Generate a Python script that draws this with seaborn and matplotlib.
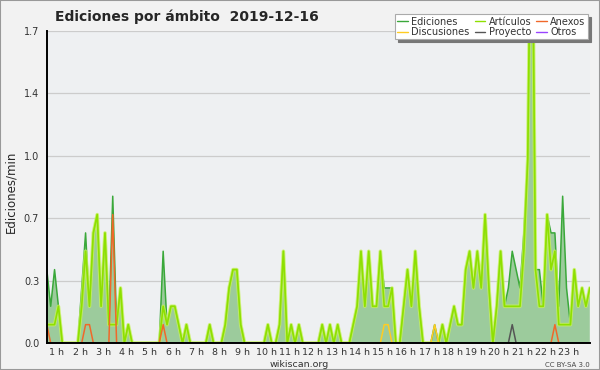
import numpy as np
import pandas as pd
import matplotlib
matplotlib.use('Agg')
import matplotlib.pyplot as plt
from matplotlib.ticker import AutoMinorLocator, FormatStrFormatter, MultipleLocator, FixedLocator
from matplotlib.patches import Rectangle
import seaborn as sns

# 10-minute bins, first bin starts at ~00:34
START_HOUR = 0.57
BIN_HOURS = 1 / 6

# Edits per minute (all namespaces)
ediciones = [
    0.4, 0.2, 0.4, 0.2, 0, 0, 0, 0, 0, 0.3,
    0.6, 0.2, 0.6, 0.7, 0.2, 0.6, 0.1, 0.8, 0.1, 0.3,
    0, 0.1, 0, 0, 0, 0, 0, 0, 0, 0,
    0.5, 0.1, 0.2, 0.2, 0.1, 0, 0.1, 0, 0, 0,
    0, 0, 0.1, 0, 0, 0, 0.1, 0.3, 0.4, 0.4,
    0.1, 0, 0, 0, 0, 0, 0, 0.1, 0, 0,
    0.1, 0.5, 0, 0.1, 0, 0.1, 0, 0, 0, 0,
    0, 0.1, 0, 0.1, 0, 0.1, 0, 0, 0, 0.1,
    0.2, 0.5, 0.2, 0.5, 0.2, 0.2, 0.5, 0.3, 0.3, 0.3,
    0, 0, 0.2, 0.4, 0.2, 0.5, 0.2, 0, 0, 0,
    0.1, 0, 0.1, 0, 0.1, 0.2, 0.1, 0.1, 0.4, 0.5,
    0.3, 0.5, 0.3, 0.7, 0.3, 0, 0.2, 0.5, 0.2, 0.3,
    0.5, 0.4, 0.3, 0.6, 1.0, 2.8, 0.4, 0.4, 0.2, 0.7,
    0.6, 0.6, 0.2, 0.8, 0.3, 0.1, 0.4, 0.2, 0.3, 0.2, 0.3,
]

articulos = [
    0.1, 0.1, 0.1, 0.2, 0, 0, 0, 0, 0, 0.2,
    0.5, 0.2, 0.6, 0.7, 0.2, 0.6, 0.1, 0.1, 0.1, 0.3,
    0, 0.1, 0, 0, 0, 0, 0, 0, 0, 0,
    0.2, 0.1, 0.2, 0.2, 0.1, 0, 0.1, 0, 0, 0,
    0, 0, 0.1, 0, 0, 0, 0.1, 0.3, 0.4, 0.4,
    0.1, 0, 0, 0, 0, 0, 0, 0.1, 0, 0,
    0.1, 0.5, 0, 0.1, 0, 0.1, 0, 0, 0, 0,
    0, 0.1, 0, 0.1, 0, 0.1, 0, 0, 0, 0.1,
    0.2, 0.5, 0.2, 0.5, 0.2, 0.2, 0.5, 0.2, 0.2, 0.3,
    0, 0, 0.2, 0.4, 0.2, 0.5, 0.2, 0, 0, 0,
    0, 0, 0.1, 0, 0.1, 0.2, 0.1, 0.1, 0.4, 0.5,
    0.3, 0.5, 0.3, 0.7, 0.3, 0, 0.2, 0.5, 0.2, 0.2,
    0.2, 0.2, 0.2, 0.5, 1.0, 2.8, 0.4, 0.2, 0.2, 0.7,
    0.4, 0.5, 0.1, 0.1, 0.1, 0.1, 0.4, 0.2, 0.3, 0.2, 0.3,
]

# sparse series: {bin index: edits/min}
anexos_bins = {0: 0.1, 10: 0.1, 11: 0.1, 17: 0.7, 30: 0.1, 131: 0.1}
discusiones_bins = {87: 0.1, 88: 0.1, 100: 0.1}
proyecto_bins = {120: 0.1}
otros_bins = {}

hour_ticks = list(range(1, 24))
hour_labels = [f"{h} h" for h in hour_ticks]
y_ticks = [0.0, 0.34, 0.68, 1.02, 1.36, 1.7]

COLORS = {
    'Ediciones': '#3aa83a',
    'Artículos': '#8ee000',
    'Anexos': '#f0682a',
    'Discusiones': '#ffcc22',
    'Proyecto': '#555555',
    'Otros': '#9944ff',
}


def expand(bins, n):
    arr = np.zeros(n)
    for k, v in bins.items():
        arr[k] = v
    return arr


n = len(ediciones)
df = pd.DataFrame({
    'hora': START_HOUR + np.arange(n) * BIN_HOURS,
    'Ediciones': ediciones,
    'Artículos': articulos,
    'Anexos': expand(anexos_bins, n),
    'Discusiones': expand(discusiones_bins, n),
    'Proyecto': expand(proyecto_bins, n),
    'Otros': expand(otros_bins, n),
})

sns.set_style('white')
plt.rcParams['font.family'] = ['DejaVu Sans']

fig, ax = plt.subplots(figsize=(6, 3.7), dpi=100)
fig.patch.set_facecolor('#f2f2f2')
ax.set_facecolor('#eef0f2')
fig.subplots_adjust(left=0.078, right=0.983, bottom=0.073, top=0.916)

# total area
ax.fill_between(df['hora'], df['Ediciones'], color='#9ccb9c', lw=0, zorder=1)
sns.lineplot(data=df, x='hora', y='Ediciones', color=COLORS['Ediciones'], lw=1.1,
             ax=ax, label='Ediciones', zorder=3)

# articles line with a soft glow
ax.plot(df['hora'], df['Artículos'], color='#c6f25a', lw=2.6, alpha=0.8, zorder=4)
sns.lineplot(data=df, x='hora', y='Artículos', color=COLORS['Artículos'], lw=1.2,
             ax=ax, label='Artículos', zorder=5)

for name in ['Anexos', 'Discusiones', 'Proyecto', 'Otros']:
    sns.lineplot(data=df, x='hora', y=name, color=COLORS[name], lw=1.1,
                 ax=ax, label=name, zorder=6)

if ax.get_legend() is not None:
    ax.get_legend().remove()

ax.set_xlim(df['hora'].iloc[0], df['hora'].iloc[-1])
ax.set_ylim(0, 1.7)

ax.xaxis.set_major_locator(FixedLocator(hour_ticks))
ax.set_xticklabels(hour_labels)
ax.xaxis.set_minor_locator(MultipleLocator(BIN_HOURS))
ax.yaxis.set_major_locator(FixedLocator(y_ticks))
ax.yaxis.set_major_formatter(FormatStrFormatter('%.1f'))
ax.yaxis.set_minor_locator(AutoMinorLocator(4))

ax.tick_params(axis='both', which='major', direction='out', length=4, width=0.8,
               labelsize=7, pad=1.5, colors='black', labelcolor='#333333')
ax.tick_params(axis='both', which='minor', direction='out', length=3, width=0.8, colors='black')
ax.tick_params(axis='x', which='major', length=3, pad=0.5, labelsize=6.8)

ax.grid(axis='y', which='major', color='#cccccc', lw=0.9)
ax.set_axisbelow(True)
ax.set_xlabel('')
ax.set_ylabel('')
sns.despine(ax=ax)
for side in ['left', 'bottom']:
    ax.spines[side].set_color('black')
    ax.spines[side].set_linewidth(1.4)
    ax.spines[side].set_zorder(8)

# legend
handles, labels = ax.get_legend_handles_labels()
lookup = dict(zip(labels, handles))
order = ['Ediciones', 'Discusiones', 'Artículos', 'Proyecto', 'Anexos', 'Otros']
leg = fig.legend([lookup[o] for o in order], order, loc='upper right',
                 bbox_to_anchor=(0.988, 0.975), ncol=3, fontsize=7,
                 handlelength=1.1, handletextpad=0.35, columnspacing=0.5,
                 labelspacing=0.05, borderpad=0.25, fancybox=False,
                 shadow={'color': '#777777', 'alpha': 1.0}, framealpha=1)
leg.get_frame().set_edgecolor('#aaaaaa')
leg.get_frame().set_linewidth(0.8)
for line in leg.get_lines():
    line.set_linewidth(1.0)
for t in leg.get_texts():
    t.set_color('#333333')

fig.text(0.312, 0.954, 'Ediciones por ámbito  2019-12-16', fontsize=10,
         fontweight='bold', ha='center', va='center')
fig.text(0.018, 0.481, 'Ediciones/min', rotation=90, fontsize=8.5,
         ha='center', va='center')
fig.text(0.498, 0.016, 'wikiscan.org', fontsize=6.8, ha='center', va='center', color='#333333')
fig.text(0.983, 0.014, 'CC BY-SA 3.0', fontsize=5, ha='right', va='center', color='#444444')

fig.patches.append(Rectangle((0, 0), 1, 1, transform=fig.transFigure, fill=False,
                             edgecolor='#999999', lw=1.5))

fig.savefig('out.png', dpi=100, facecolor=fig.get_facecolor())
